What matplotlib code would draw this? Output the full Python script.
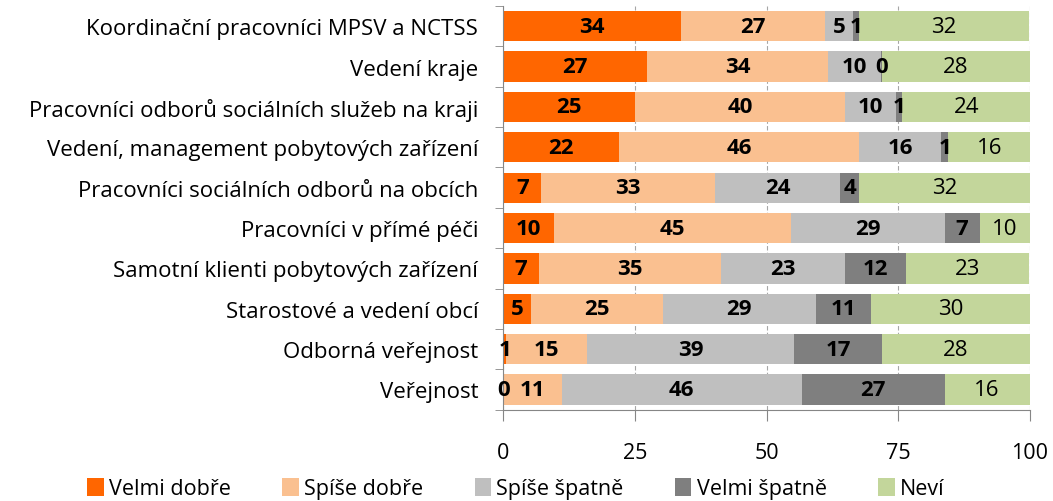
import numpy as np
import matplotlib
matplotlib.use('Agg')
import matplotlib.pyplot as plt

plt.rcParams['font.family'] = ['Open Sans', 'DejaVu Sans']

categories = ['Koordinační pracovníci MPSV a NCTSS',
              'Vedení kraje',
              'Pracovníci odborů sociálních služeb na kraji',
              'Vedení, management pobytových zařízení',
              'Pracovníci sociálních odborů na obcích',
              'Pracovníci v přímé péči',
              'Samotní klienti pobytových zařízení',
              'Starostové a vedení obcí',
              'Odborná veřejnost',
              'Veřejnost']

series_names = ['Velmi dobře', 'Spíše dobře', 'Spíše špatně', 'Velmi špatně', 'Neví']

velmi_dobre = [33.8, 27.3, 25.0, 22.0, 7.2, 9.6, 6.8, 5.3, 0.6, 0.0]
spise_dobre = [27.3, 34.4, 39.9, 45.6, 33.0, 45.0, 34.6, 25.0, 15.3, 11.1]
spise_spatne = [5.3, 10.1, 9.6, 15.6, 23.8, 29.2, 23.4, 29.0, 39.4, 45.6]
velmi_spatne = [1.1, 0.2, 1.3, 1.3, 3.6, 6.7, 11.7, 10.6, 16.6, 27.1]
nevi = [32.4, 28.0, 24.2, 15.6, 32.4, 9.6, 23.4, 30.1, 28.1, 16.2]

colors = ['#FF6600', '#FAC090', '#BFBFBF', '#7F7F7F', '#C3D69B']

data = [velmi_dobre, spise_dobre, spise_spatne, velmi_spatne, nevi]

fig = plt.figure(figsize=(10.53, 5.02), dpi=100)
ax = fig.add_axes([0.478, 0.182, 0.5, 0.804])

y = np.arange(len(categories))
left = np.zeros(len(categories))
for i in range(5):
    vals = np.array(data[i])
    ax.barh(y, vals, left=left, height=0.75, color=colors[i],
            label=series_names[i], zorder=2)
    for k in range(len(categories)):
        weight = 'normal' if i == 4 else 'bold'
        ax.text(left[k] + vals[k] / 2, y[k], '%.0f' % vals[k],
                ha='center', va='center', fontsize=16, fontweight=weight,
                color='black', zorder=3)
    left = left + vals

ax.set_xlim(0, 100)
ax.set_ylim(len(categories) - 0.5, -0.5)
ax.set_xticks([0, 25, 50, 75, 100])
ax.set_yticks(y)
ax.set_yticklabels(categories, fontsize=16)
ax.set_yticks(np.arange(-0.5, len(categories), 1), minor=True)
ax.tick_params(axis='y', which='major', length=0, pad=18)
ax.tick_params(axis='y', which='minor', length=6, color='#868686')
ax.tick_params(axis='x', length=8, color='#868686', labelsize=15.5, pad=15)
ax.xaxis.grid(True, color='#A6A6A6', linestyle=(0, (4, 2)), linewidth=0.8, zorder=0)
ax.set_axisbelow(True)
for s in ['top', 'right']:
    ax.spines[s].set_visible(False)
for s in ['left', 'bottom']:
    ax.spines[s].set_color('#868686')

fig.legend(loc='center', ncol=5, frameon=False, fontsize=15.5,
           bbox_to_anchor=(0.49, 0.025), handlelength=0.75, handleheight=0.9,
           columnspacing=2.4, handletextpad=0.25, borderaxespad=0)

fig.savefig('out.png', dpi=100)
